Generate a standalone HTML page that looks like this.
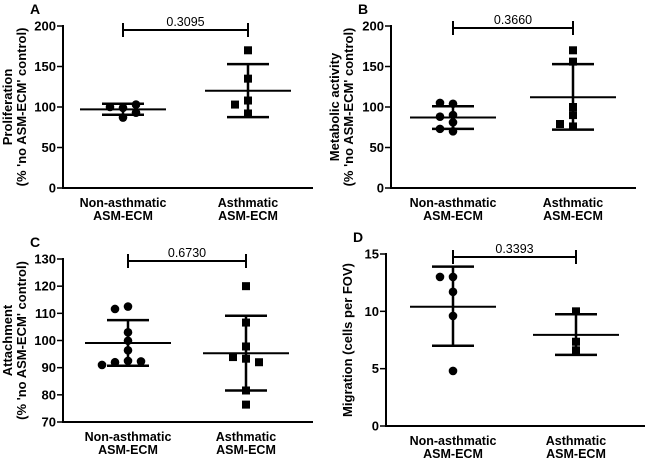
<!DOCTYPE html>
<html><head><meta charset="utf-8"><style>
html,body{margin:0;padding:0;background:#fff}
svg{display:block}
text{font-family:"Liberation Sans",Arial,sans-serif;fill:#000}
</style></head><body>
<svg id="fig" width="646" height="459" viewBox="0 0 646 459" xmlns="http://www.w3.org/2000/svg"></svg>
<script>
// ---- data ----
const categories = ["Non-asthmatic", "Asthmatic"];
const catLine2 = ["ASM-ECM", "ASM-ECM"];
const pValues = ["0.3095", "0.3660", "0.6730", "0.3393"];
const panelLetters = ["A", "B", "C", "D"];

const aNon = [87, 99, 100, 103, 93];
const aAst = [170, 135, 108, 103, 92];
const aMean = [97, 120];
const aSdLo = [90.5, 87.5];
const aSdHi = [104, 153];
const aTicks = [0, 50, 100, 150, 200];

const bNon = [104, 105, 90, 88, 81, 70, 73];
const bAst = [170, 156, 100, 90, 76, 79];
const bMean = [87, 112];
const bSdLo = [73, 72];
const bSdHi = [101, 153];
const bTicks = [0, 50, 100, 150, 200];

const cNon = [112.5, 111.6, 103, 99.9, 96.4, 92.5, 92, 92.3, 91];
const cAst = [120, 106.6, 97.8, 93.3, 93.9, 92, 81.6, 76.4];
const cMean = [99.1, 95.3];
const cSdLo = [90.7, 81.6];
const cSdHi = [107.5, 109.1];
const cTicks = [70, 80, 90, 100, 110, 120, 130];

const dNon = [13.0, 13.0, 11.7, 9.6, 4.8];
const dAst = [10.0, 7.35, 6.6];
const dMean = [10.4, 7.95];
const dSdLo = [7.0, 6.2];
const dSdHi = [13.9, 9.75];
const dTicks = [0, 5, 10, 15];

const NS = "http://www.w3.org/2000/svg";
const svg = document.getElementById("fig");
function mk(tag, attrs, parent, txt) {
  const e = document.createElementNS(NS, tag);
  for (const k in attrs) e.setAttribute(k, attrs[k]);
  if (txt !== undefined) e.textContent = txt;
  (parent || svg).appendChild(e);
  return e;
}
function swarm(vals, yf) {
  const placed = [];
  return vals.map(v => {
    const y = yf(v);
    const offs = [0, -13, 13, -26, 26];
    for (const o of offs) {
      if (!placed.some(p => Math.abs(p.o - o) < 10 && Math.abs(p.y - y) < 6.5)) { placed.push({o, y}); return o; }
    }
    return 0;
  });
}

function panel(cfg) {
  const g = mk("g", {}, svg);
  
  
  const y = v => cfg.y0 + (v - cfg.vmin) / (cfg.vmax - cfg.vmin) * (cfg.y1 - cfg.y0);
  const L = mk("text", {x: cfg.ax - 33, y: cfg.y1 - 12, "font-size": 14, "font-weight": "bold"}, g, cfg.letter);
  
  
  const ya = mk("line", {x1: cfg.ax, y1: cfg.y1 - 1, x2: cfg.ax, y2: cfg.y0 + 1, stroke: "#000", "stroke-width": 2}, g);
  
  
  const xa = mk("line", {x1: cfg.ax - 1, y1: cfg.y0, x2: cfg.xend, y2: cfg.y0, stroke: "#000", "stroke-width": 2}, g);
  
  
  cfg.ticks.forEach(t => {
    const tk = mk("line", {x1: cfg.ax - 6, x2: cfg.ax, y1: y(t), y2: y(t), stroke: "#000", "stroke-width": 1.5}, g);
    
    
    const tl = mk("text", {x: cfg.ax - 7, y: y(t) + 4.5, "font-size": 13, "font-weight": "bold", "text-anchor": "end"}, g, String(t));
    
    
  });
  const cy = (cfg.y0 + cfg.y1) / 2;
  cfg.ytitle.forEach((s, i) => {
    const xx = cfg.ytx[i];
    const t = mk("text", {x: xx, y: cy, "font-size": 13, "font-weight": "bold", "text-anchor": "middle", transform: `rotate(-90 ${xx} ${cy})`}, g, s);
    
    
  });
  categories.forEach((c, i) => {
    const t1 = mk("text", {x: cfg.cx[i], y: cfg.y0 + 19, "font-size": 12.5, "font-weight": "bold", "text-anchor": "middle"}, g, c);
    
    
    const t2 = mk("text", {x: cfg.cx[i], y: cfg.y0 + 32, "font-size": 12.5, "font-weight": "bold", "text-anchor": "middle"}, g, catLine2[i]);
    
    
  });
  const by = cfg.by;
  const br = mk("path", {d: `M${cfg.cx[0]},${by - 7}V${by + 7}M${cfg.cx[0]},${by}H${cfg.cx[1]}M${cfg.cx[1]},${by - 7}V${by + 7}`, stroke: "#000", "stroke-width": 2, fill: "none"}, g);
  
  
  const pt = mk("text", {x: (cfg.cx[0] + cfg.cx[1]) / 2, y: by - 4, "font-size": 12.5, "text-anchor": "middle"}, g, cfg.p);
  
  
  [cfg.non, cfg.ast].forEach((vals, i) => {
    const cx = cfg.cx[i];
    const sd = mk("path", {d: `M${cx},${y(cfg.lo[i])}V${y(cfg.hi[i])}M${cx - 21},${y(cfg.lo[i])}H${cx + 21}M${cx - 21},${y(cfg.hi[i])}H${cx + 21}`, stroke: "#000", "stroke-width": 2.5, fill: "none"}, g);
    
    
    const offs = swarm(vals, y);
    vals.forEach((v, k) => {
      let m;
      if (i === 0) m = mk("circle", {cx: cx + offs[k], cy: y(v), r: 4.3, fill: "#000"}, g);
      else m = mk("rect", {x: cx + offs[k] - 4, y: y(v) - 4, width: 8, height: 8, fill: "#000"}, g);
      
      
    });
    const mn = mk("line", {x1: cx - 43, x2: cx + 43, y1: y(cfg.mean[i]), y2: y(cfg.mean[i]), stroke: "#000", "stroke-width": 2}, g);
    
    
  });
}

panel({letter: panelLetters[0], ax: 63, xend: 313, y0: 188, y1: 26, vmin: 0, vmax: 200, ticks: aTicks, cx: [123, 248], by: 30, p: pValues[0],
  ytitle: ["Proliferation", "(% 'no ASM-ECM' control)"], ytx: [12, 26], non: aNon, ast: aAst, mean: aMean, lo: aSdLo, hi: aSdHi});
panel({letter: panelLetters[1], ax: 391, xend: 636, y0: 188, y1: 26, vmin: 0, vmax: 200, ticks: bTicks, cx: [453, 573], by: 28, p: pValues[1],
  ytitle: ["Metabolic activity", "(% 'no ASM-ECM' control)"], ytx: [339, 353], non: bNon, ast: bAst, mean: bMean, lo: bSdLo, hi: bSdHi});
panel({letter: panelLetters[2], ax: 63, xend: 313, y0: 422, y1: 259, vmin: 70, vmax: 130, ticks: cTicks, cx: [128, 246], by: 261, p: pValues[2],
  ytitle: ["Attachment", "(% 'no ASM-ECM' control)"], ytx: [12, 26], non: cNon, ast: cAst, mean: cMean, lo: cSdLo, hi: cSdHi});
panel({letter: panelLetters[3], ax: 386, xend: 645, y0: 426, y1: 254, vmin: 0, vmax: 15, ticks: dTicks, cx: [453, 576], by: 257, p: pValues[3],
  ytitle: ["Migration (cells per FOV)"], ytx: [352], non: dNon, ast: dAst, mean: dMean, lo: dSdLo, hi: dSdHi});
</script>
</body></html>
